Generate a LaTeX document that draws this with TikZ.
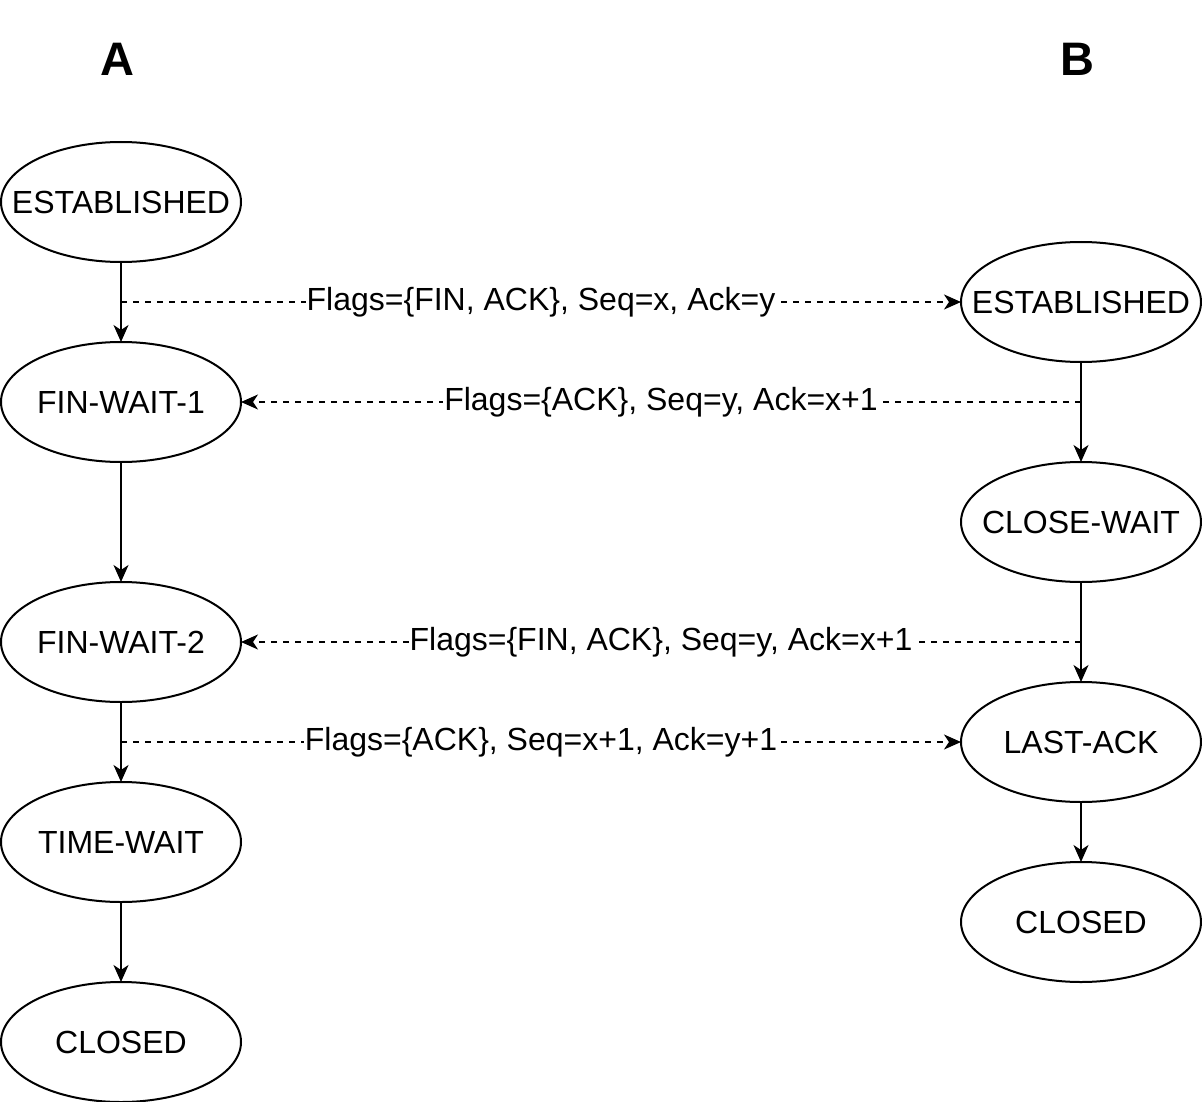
\documentclass[tikz,border=0pt]{standalone}
\usepackage{fontspec}
\setmainfont{Liberation Sans}
\usetikzlibrary{shapes.geometric,arrows.meta}
\begin{document}
\begin{tikzpicture}[x=1pt,y=-1pt,
 st/.style={ellipse, draw, line width=2pt, minimum width=240pt, minimum height=120pt, inner sep=0pt, outer sep=0pt, font=\fontsize{32}{38}\selectfont},
 flow/.style={line width=2pt, -{Stealth[length=17pt,width=15pt,inset=5pt]}},
 msg/.style={flow, dash pattern=on 6pt off 6pt},
 lbl/.style={fill=white, inner sep=1pt, font=\fontsize{32}{38}\selectfont},
 hdr/.style={font=\fontsize{47}{56}\bfseries\selectfont}]
\useasboundingbox (0,0) rectangle (1202,1102);
\node[hdr] (hA) at (117,59) {A};
\node[hdr] (hB) at (1077,59) {B};
% column A
\node[st] (a1) at (121,202) {\makebox[0pt]{\raisebox{-1pt}{ESTABLISHED}}};
\node[st] (a2) at (121,402) {\makebox[0pt]{\raisebox{-1pt}{FIN-WAIT-1}}};
\node[st] (a3) at (121,642) {\makebox[0pt]{\raisebox{-1pt}{FIN-WAIT-2}}};
\node[st] (a4) at (121,842) {\makebox[0pt]{\raisebox{-1pt}{TIME-WAIT}}};
\node[st] (a5) at (121,1042) {\makebox[0pt]{\raisebox{-1pt}{CLOSED}}};
% column B
\node[st] (b1) at (1081,302) {\makebox[0pt]{\raisebox{-1pt}{ESTABLISHED}}};
\node[st] (b2) at (1081,522) {\makebox[0pt]{\raisebox{-1pt}{CLOSE-WAIT}}};
\node[st] (b3) at (1081,742) {\makebox[0pt]{\raisebox{-1pt}{LAST-ACK}}};
\node[st] (b4) at (1081,922) {\makebox[0pt]{\raisebox{-1pt}{CLOSED}}};
% state transitions
\draw[flow] (a1) -- (a2);
\draw[flow] (a2) -- (a3);
\draw[flow] (a3) -- (a4);
\draw[flow] (a4) -- (a5);
\draw[flow] (b1) -- (b2);
\draw[flow] (b2) -- (b3);
\draw[flow] (b3) -- (b4);
% messages
\coordinate (m1) at (121,302);
\coordinate (m2) at (1081,402);
\coordinate (m3) at (1081,642);
\coordinate (m4) at (121,742);
\draw[msg] (m1) -- (b1.west) node[midway, lbl] (l1) {Flags=\{FIN, ACK\}, Seq=x, Ack=y};
\draw[msg] (m2) -- (a2.east) node[midway, lbl] (l2) {Flags=\{ACK\}, Seq=y, Ack=x+1};
\draw[msg] (m3) -- (a3.east) node[midway, lbl] (l3) {Flags=\{FIN, ACK\}, Seq=y, Ack=x+1};
\draw[msg] (m4) -- (b3.west) node[midway, lbl] (l4) {Flags=\{ACK\}, Seq=x+1, Ack=y+1};
\end{tikzpicture}
\end{document}
